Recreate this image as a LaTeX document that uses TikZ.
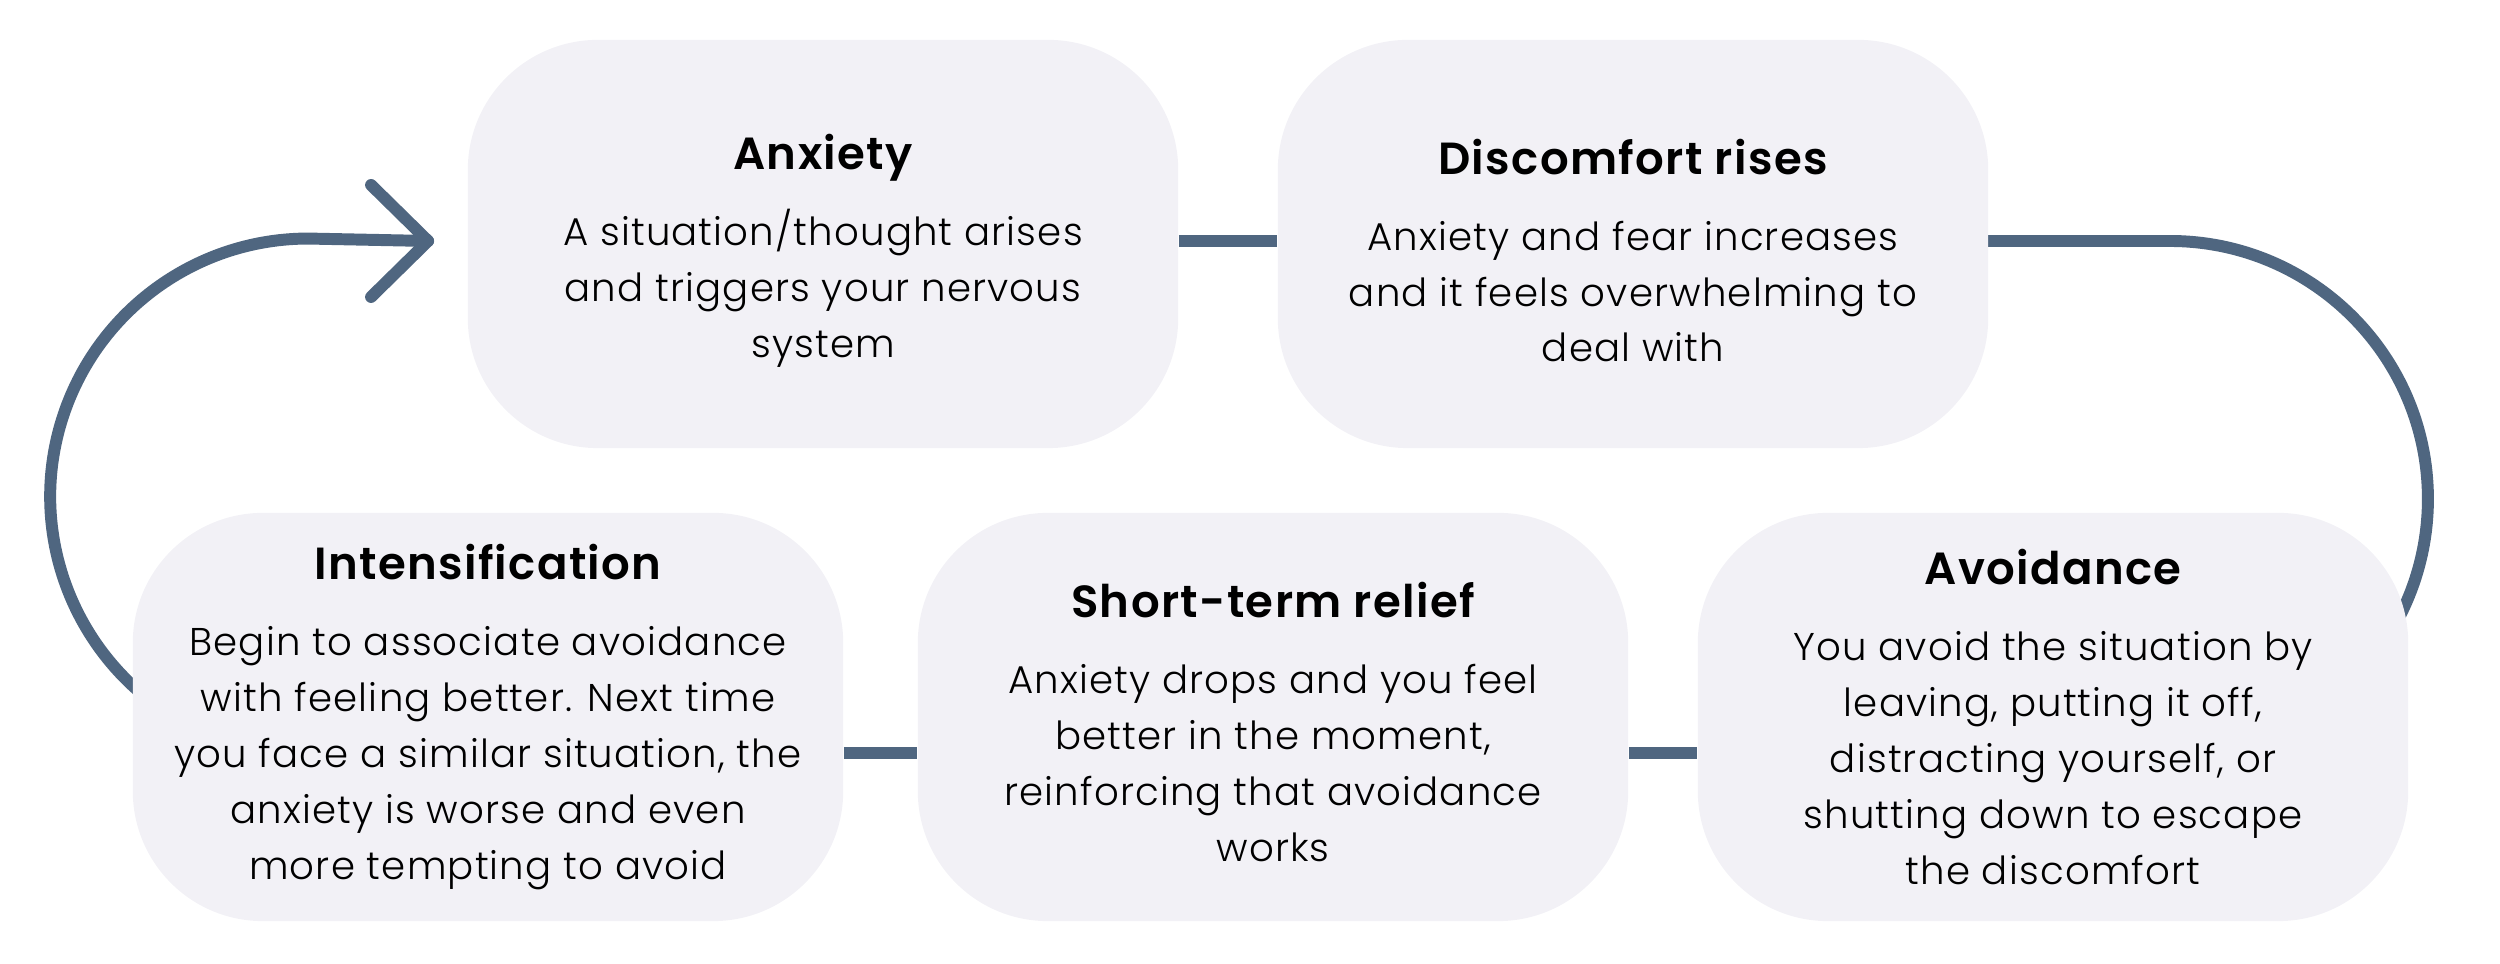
\documentclass[tikz,border=0pt]{standalone}
\usepackage{fontspec}
\setmainfont{Poppins}[UprightFont=* Light, BoldFont=* SemiBold, LetterSpace=3]
\usetikzlibrary{backgrounds}
\definecolor{loopblue}{HTML}{4F6680}
\definecolor{boxgrey}{HTML}{F2F1F6}
\tikzset{
	cycle box/.style={rounded corners=1.3cm, fill=boxgrey, minimum width=7.1cm, minimum height=4.08cm, align=center, inner sep=0, font=\fontsize{11}{15.9}\selectfont},
	loop line/.style={draw=loopblue, line width=3.4pt, line cap=round, line join=round},
	link line/.style={draw=loopblue, line width=3.4pt},
}
\newcommand{\boxtitle}[2][0pt]{{\fontsize{12.8}{14}\selectfont\bfseries\rule{0pt}{#1}#2}\\[0.2cm]}

\begin{document}
\begin{tikzpicture}[x=0.01cm, y=0.01cm]
  \useasboundingbox (0,0) rectangle (2500,964);

  % top row
  \node(anx)[cycle box] at (823,720) {\boxtitle[13.8pt]{Anxiety}A situation/thought arises\\and triggers your nervous\\system};
  \node(disc)[cycle box] at (1633,720) {\boxtitle[13.8pt]{Discomfort rises}Anxiety and fear increases\\and it feels overwhelming to\\deal with};

  % bottom row
  \node(intens)[cycle box] at (488,247) {\boxtitle{Intensification}Begin to associate avoidance\\with feeling better. Next time\\you face a similar situation, the\\anxiety is worse and even\\more tempting to avoid};
  \node(relief)[cycle box] at (1273,247) {\boxtitle[12.7pt]{Short-term relief}Anxiety drops and you feel\\better in the moment,\\reinforcing that avoidance\\works};
  \node(avoid)[cycle box] at (2053,247) {\boxtitle{Avoidance}You avoid the situation by\\leaving, putting it off,\\distracting yourself, or\\shutting down to escape\\the discomfort};

  \coordinate(tip) at ([xshift=-0.39cm,yshift=0.03cm]anx.west);
  \coordinate(lstart) at (220,225);

  \begin{scope}[on background layer]
    \draw[loop line] (lstart) arc[start angle=250, end angle=90, radius=258] -- (tip);
    \draw[loop line] ([yshift=0.03cm]disc.east) -- ++(181,0) arc[start angle=90, end angle=-70, radius=258];
  \end{scope}
  \draw[loop line] ([shift={(-57,56)}]tip) -- (tip) -- ([shift={(-57,-56)}]tip);

  \draw[link line] ([yshift=0.03cm]anx.east) -- ([yshift=0.03cm]disc.west);
  \draw[link line] ([yshift=-0.36cm]intens.east) -- ([yshift=-0.36cm]relief.west);
  \draw[link line] ([yshift=-0.36cm]relief.east) -- ([yshift=-0.36cm]avoid.west);
\end{tikzpicture}
\end{document}
